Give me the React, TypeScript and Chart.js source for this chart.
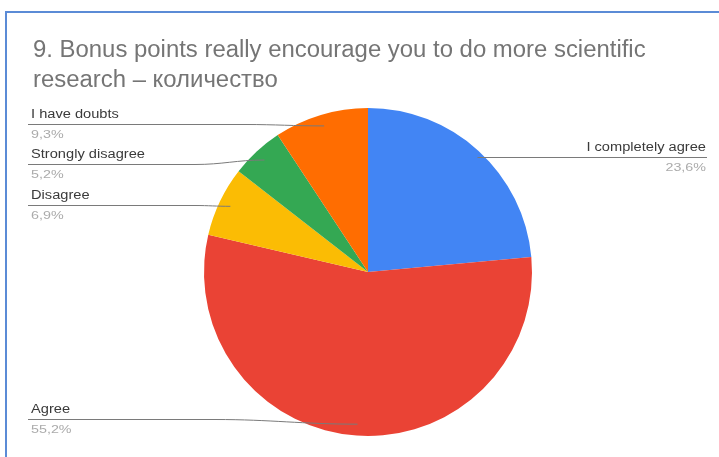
import React, { useEffect, useRef } from "react";
import { Chart, registerables } from "chart.js";

Chart.register(...registerables);

const TITLE_LINES = ["9. Bonus points really encourage you to do more scientific", "research – количество"];
const categories = ["I completely agree", "Agree", "Disagree", "Strongly disagree", "I have doubts"];
const values = [23.6, 55.2, 6.9, 5.2, 9.3];
const colors = ["#4285F4", "#EA4335", "#FBBC04", "#34A853", "#FF6D01"];

// label placement (layout only)
const labelSide = ["right", "left", "left", "left", "left"];
const labelTextY = [148, 410, 196, 155, 115];
const labelBendX = [0, 215, 195, 195, 245];

const FONT = "'Liberation Sans', Arial, sans-serif";

function fmt(v: number) {
  return v.toFixed(1).replace(".", ",") + "%";
}

function stretchText(ctx: CanvasRenderingContext2D, text: string, x: number, y: number, sx: number, align: string) {
  ctx.save();
  ctx.translate(x, y);
  ctx.scale(sx, 1);
  ctx.textAlign = align as CanvasTextAlign;
  ctx.fillText(text, 0, 0);
  ctx.restore();
}

const overlay = {
  id: "overlay",
  afterDraw(chart: any) {
    const ctx = chart.ctx as CanvasRenderingContext2D;
    ctx.save();
    // title
    ctx.fillStyle = "#757575";
    let fs = 20;
    ctx.font = `${fs}px ${FONT}`;
    const w = ctx.measureText(TITLE_LINES[0]).width;
    fs = fs * (613 / w);
    ctx.font = `${fs}px ${FONT}`;
    ctx.textAlign = "left";
    ctx.textBaseline = "alphabetic";
    ctx.fillText(TITLE_LINES[0], 33, 57);
    ctx.fillText(TITLE_LINES[1], 33, 87);

    const meta = chart.getDatasetMeta(0);
    meta.data.forEach((arc: any, i: number) => {
      const mid = (arc.startAngle + arc.endAngle) / 2;
      const side = labelSide[i];
      const r = arc.outerRadius * (side === "right" ? 0.99 : 0.93);
      const ex = arc.x + Math.cos(mid) * r;
      const ey = arc.y + Math.sin(mid) * r;
      const ty = labelTextY[i];
      const ly = ty + 9;
      const py = ty + 20;
      // line
      ctx.strokeStyle = "#7a7a7a";
      ctx.lineWidth = 1;
      ctx.beginPath();
      if (side === "left") {
        const bx = labelBendX[i];
        const span = ex - bx;
        ctx.moveTo(28, ly + 0.5);
        ctx.lineTo(bx, ly + 0.5);
        ctx.bezierCurveTo(bx + span * 0.4, ly + 0.5, ex - span * 0.4, ey, ex, ey);
      } else {
        ctx.moveTo(707, ly + 0.5);
        ctx.lineTo(ex, ly + 0.5);
      }
      ctx.stroke();
      // texts
      ctx.textBaseline = "middle";
      const align = side === "left" ? "left" : "right";
      const tx = side === "left" ? 31 : 706;
      ctx.font = `12px ${FONT}`;
      ctx.fillStyle = "#3a3a3a";
      stretchText(ctx, categories[i], tx, ty, 1.22, align);
      ctx.font = `11px ${FONT}`;
      ctx.fillStyle = "#ababab";
      stretchText(ctx, fmt(values[i]), tx, py, 1.3, align);
    });
    ctx.restore();
  },
};

export default function App() {
  const ref = useRef<HTMLCanvasElement | null>(null);
  useEffect(() => {
    document.body.style.margin = "0";
    if (!ref.current) return;
    const chart = new Chart(ref.current, {
      type: "pie",
      data: {
        labels: categories,
        datasets: [
          {
            data: values,
            backgroundColor: colors,
            borderWidth: 0,
          },
        ],
      },
      options: {
        animation: false,
        responsive: false,
        devicePixelRatio: 1,
        layout: { padding: { top: 108, bottom: 21, left: 100, right: 83 } },
        plugins: {
          legend: { display: false },
          tooltip: { enabled: false },
          title: { display: false },
        },
      },
      plugins: [overlay],
    });
    return () => chart.destroy();
  }, []);
  return (
    <div style={{ position: "relative", width: 719, height: 457, overflow: "hidden", background: "#fff" }}>
      <canvas ref={ref} width={719} height={457} style={{ position: "absolute", left: 0, top: 0 }} />
      <div
        style={{
          position: "absolute",
          left: 5,
          top: 11,
          width: 800,
          height: 800,
          borderLeft: "2px solid #5b8bd6",
          borderTop: "2px solid #5b8bd6",
        }}
      />
    </div>
  );
}
